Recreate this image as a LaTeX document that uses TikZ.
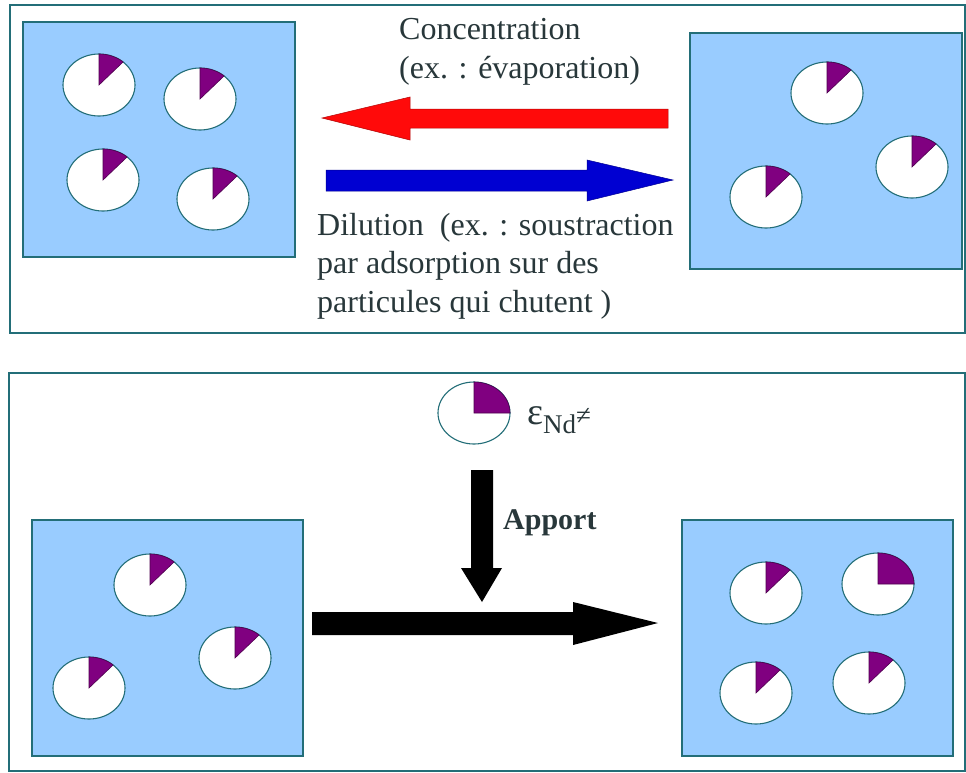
\documentclass[tikz,border=0pt]{standalone}
\usepackage{fontspec}
\setmainfont{Liberation Serif}
\usetikzlibrary{shapes.geometric}
\definecolor{lineteal}{RGB}{35,110,120}
\definecolor{boxblue}{RGB}{153,204,255}
\definecolor{wedge}{RGB}{128,0,128}
\definecolor{txt}{RGB}{40,55,58}
\definecolor{redarrow}{RGB}{255,10,10}
\definecolor{bluearrow}{RGB}{0,0,210}
\tikzset{
  frame/.style={draw=lineteal, line width=1.6pt},
  bluebox/.style={rectangle, draw=lineteal, fill=boxblue, line width=1.6pt, inner sep=0pt},
  pie/.style={ellipse, draw=lineteal, fill=white, line width=1.1pt, minimum width=72pt, minimum height=62pt, inner sep=0pt},
  wedgestyle/.style={fill=wedge, draw=wedge!60!black, line width=0.6pt},
  lbl/.style={text=txt, font=\fontsize{32}{38.5}\selectfont, align=left, inner sep=0pt, anchor=west},
}
% #1 name, #2 x, #3 y, #4 end angle of the wedge
\newcommand{\mypie}[4]{%
  \node[pie] (#1) at (#2,#3) {};
  \fill[wedgestyle] (#2,#3) -- plot[domain=270:#4, samples=20, smooth] ({#2+36*cos(\x)},{#3+31*sin(\x)}) -- cycle;
}
\begin{document}
\begin{tikzpicture}[x=1pt,y=-1pt]
\useasboundingbox (0,0) rectangle (966,772);
\fill[white] (0,0) rectangle (966,772);
% frames
\draw[frame] (10,5) rectangle (965,333);
\draw[frame] (9,373) rectangle (965,771);
% top-left box
\node[bluebox, minimum width=272pt, minimum height=235pt] (tl) at (159,139.5) {};
\mypie{tl1}{99}{85}{312}
\mypie{tl2}{200}{99}{312}
\mypie{tl3}{103}{180}{312}
\mypie{tl4}{213}{199}{312}
% top-right box
\node[bluebox, minimum width=272pt, minimum height=236pt] (tr) at (826,151) {};
\mypie{tr1}{827}{93}{312}
\mypie{tr2}{912}{167}{312}
\mypie{tr3}{766}{197}{312}
% red arrow (concentration)
\fill[redarrow, draw=redarrow!70!black, line width=0.5pt] (668,109) -- (410,109) -- (410,97) -- (322,118) -- (410,140) -- (410,128) -- (668,128) -- cycle;
% blue arrow (dilution)
\fill[bluearrow, draw=bluearrow!70!black, line width=0.5pt] (326,170) -- (587,170) -- (587,160) -- (673,180) -- (587,201) -- (587,191) -- (326,191) -- cycle;
% labels top
\node[lbl] (conc) at (399,52) {Concentration\\(ex. : évaporation)};
\node[lbl] (dil) at (317,266) {Dilution \ (ex. : soustraction\\par adsorption sur des\\particules qui chutent )};
% bottom-left box
\node[bluebox, minimum width=271pt, minimum height=236pt] (bl) at (167.5,638) {};
\mypie{bl1}{150}{585}{312}
\mypie{bl2}{235}{658}{312}
\mypie{bl3}{89}{688}{312}
% bottom-right box
\node[bluebox, minimum width=271pt, minimum height=236pt] (br) at (817.5,638) {};
\mypie{br1}{766}{593}{312}
\mypie{br2}{878}{584}{360}
\mypie{br3}{756}{693}{312}
\mypie{br4}{869}{683}{312}
% isolated pie
\mypie{src}{474}{413}{360}
\node[text=txt, anchor=west, inner sep=0pt] (eps) at (527,420) {{\fontsize{38}{38}\selectfont ε}\raisebox{-9pt}{\fontsize{27}{27}\selectfont Nd}{\fontsize{27}{27}\selectfont ≠}};
% down arrow (apport)
\fill[black] (471,470) -- (493,470) -- (493,568) -- (502,568) -- (482,602) -- (461,568) -- (471,568) -- cycle;
\node[text=txt, anchor=west, inner sep=0pt, font=\fontsize{30}{30}\selectfont\bfseries] (apport) at (503,523) {Apport};
% horizontal black arrow
\fill[black] (312,612) -- (573,612) -- (573,602) -- (658,623) -- (573,645) -- (573,635) -- (312,635) -- cycle;
\end{tikzpicture}
\end{document}
